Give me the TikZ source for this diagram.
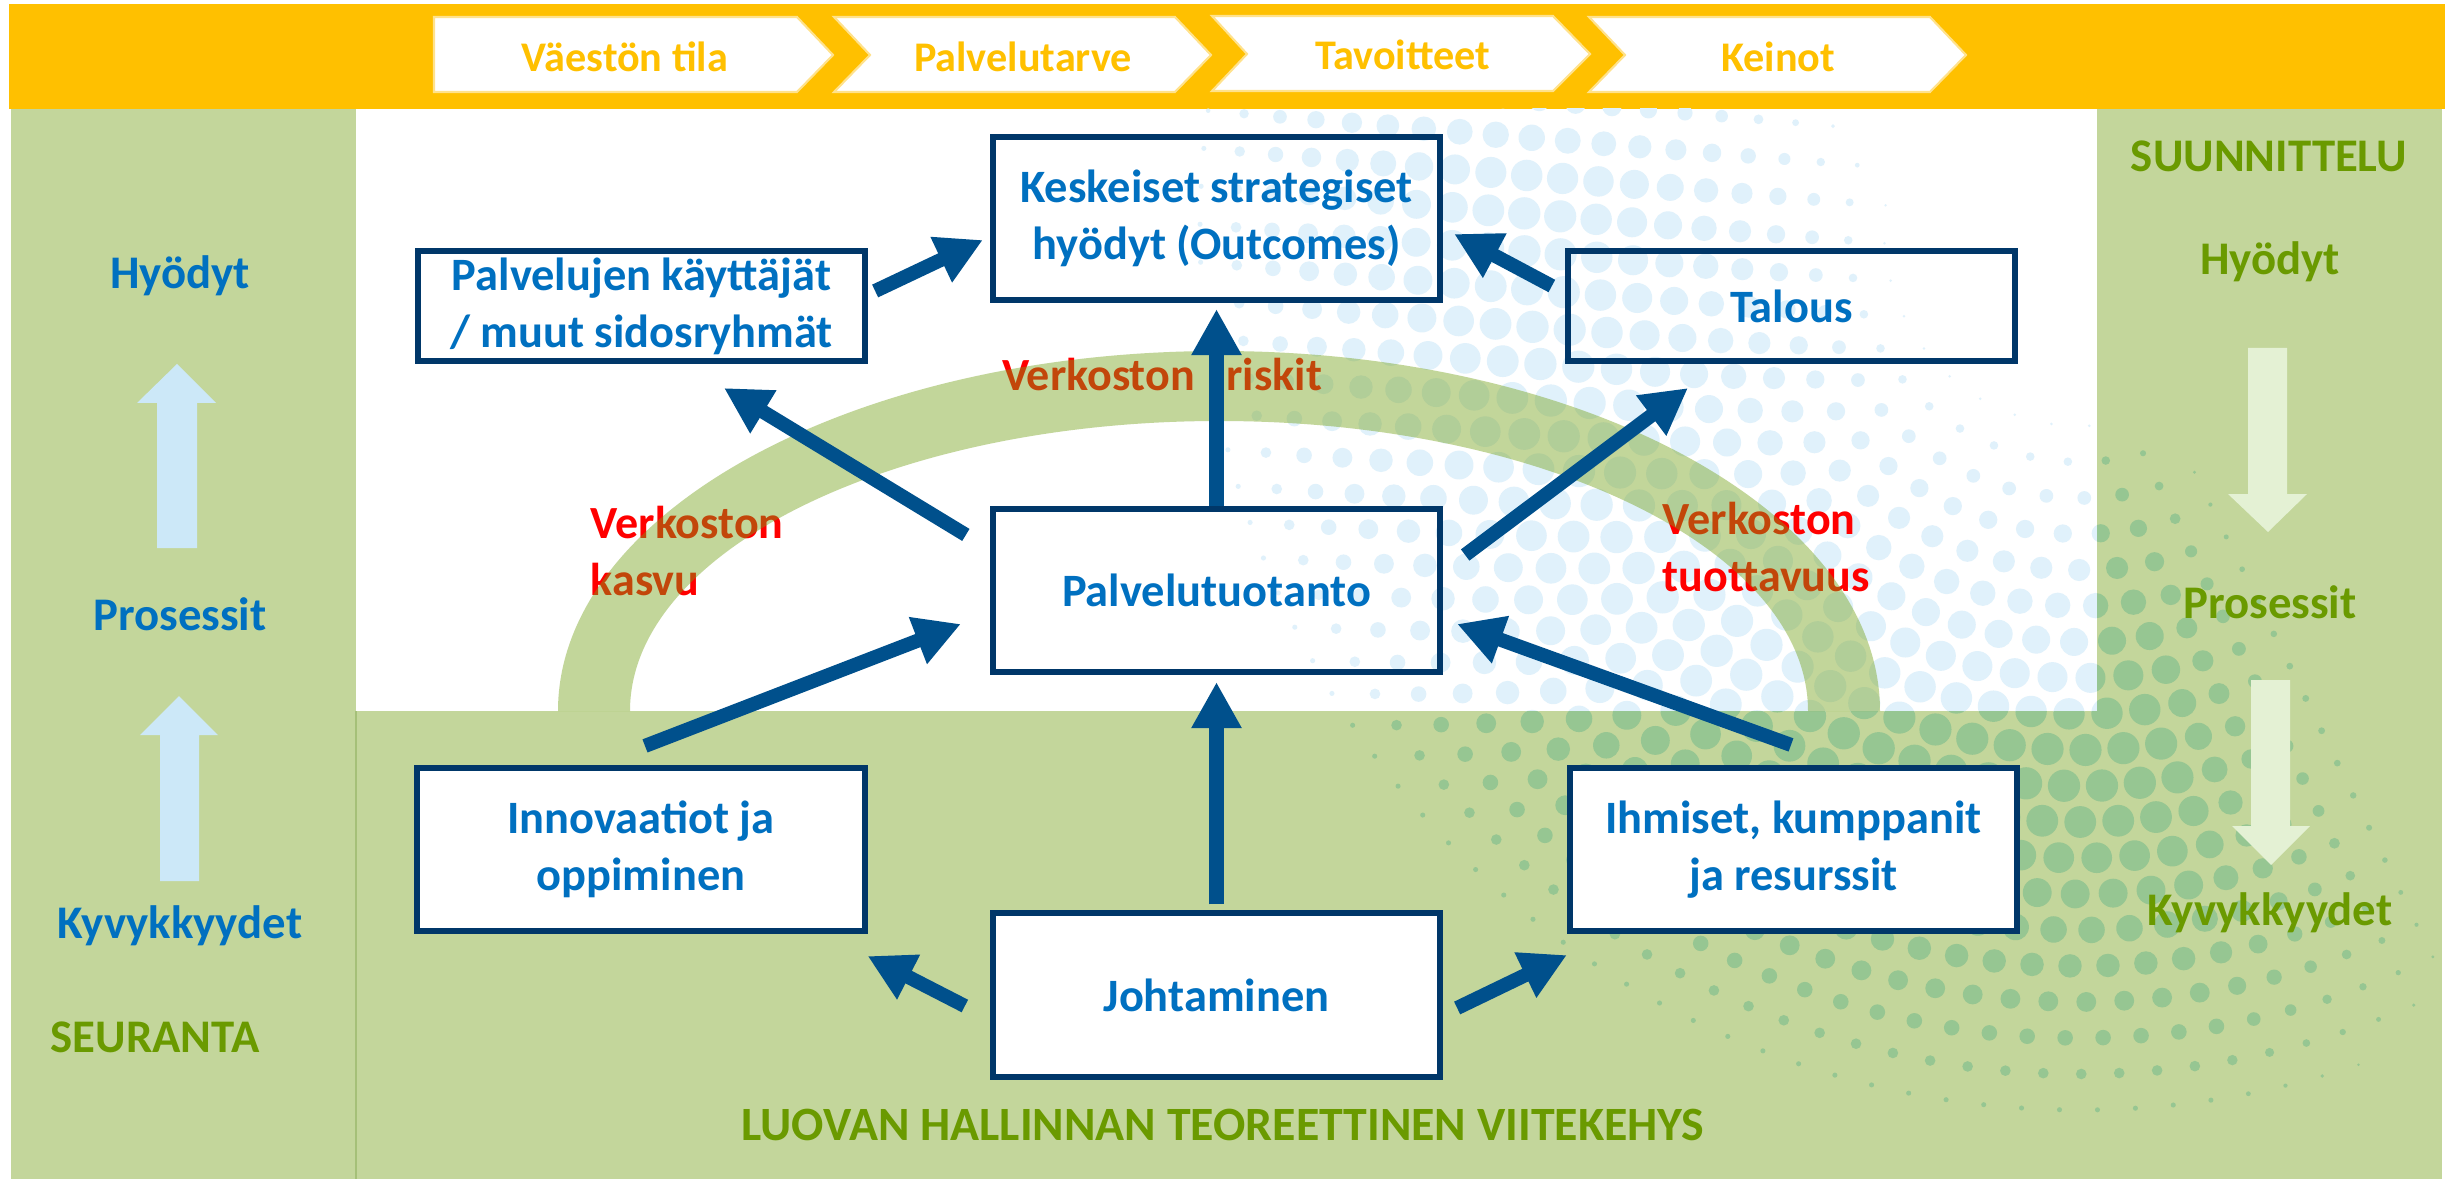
\documentclass[tikz,border=0pt]{standalone}
\usepackage{fontspec}
\setmainfont{Carlito}
\usetikzlibrary{arrows.meta,calc}
\definecolor{ylw}{RGB}{255,192,0}
\definecolor{pgreen}{RGB}{195,214,155}
\definecolor{arcg}{RGB}{117,161,25}
\definecolor{navy}{RGB}{0,55,105}
\definecolor{arrblue}{RGB}{0,80,140}
\definecolor{tblue}{RGB}{0,112,192}
\definecolor{tgreen}{RGB}{106,154,0}
\definecolor{lblue}{RGB}{204,232,248}
\definecolor{lgreen}{RGB}{228,241,212}
\definecolor{dotblue}{RGB}{224,241,251}
\definecolor{dotgreen}{RGB}{150,198,146}
\definecolor{chevline}{RGB}{255,226,140}
\definecolor{edgeg}{RGB}{165,192,120}
\newcommand\halftone[1]{%
  \foreach \n in {0,...,23}{
    \pgfmathsetmacro\rr{160+36*\n}
    \pgfmathsetmacro\dth{38/\rr*57.29578}
    \pgfmathtruncatemacro\cnt{160/\dth}
    \pgfmathsetmacro\sr{max(0,1-((\rr-545)/365)*((\rr-545)/365))}
    \foreach \k in {0,...,\cnt}{
      \pgfmathsetmacro\th{145+(\k+0.5*mod(\n,2))*\dth}
      \pgfmathsetmacro\w{min(1,max(0,(\th-150)/25))*min(1,max(0,(300-\th)/20))}
      \pgfmathsetmacro\rad{0.5*38*0.85*\sr*\w*0.28453}
      \ifdim\rad pt>0.35pt
        \fill[#1] ({2080+\rr*cos(\th)},{230-\rr*sin(\th)}) circle[radius=\rad pt];
      \fi
    }
  }}
\begin{document}
\begin{tikzpicture}[x=0.01cm,y=-0.01cm,
  box/.style={draw=navy, line width=1.7pt, minimum width=127.2pt, minimum height=46.4pt,
    inner sep=0pt, align=center, text=tblue, font=\fontsize{13.2}{16.2}\selectfont\bfseries},
  flatbox/.style={box, minimum height=31.3pt},
  wbox/.style={box, fill=white},
  arr/.style={draw=arrblue, line width=4pt, -{Triangle[width=13.4pt,length=13.1pt]}},
  chev/.style={fill=white, draw=chevline, line width=0.6pt},
  chevtxt/.style={text=ylw, font=\fontsize{12}{14}\selectfont\bfseries, inner sep=0pt},
  sidetxt/.style={font=\fontsize{13.3}{16}\selectfont\bfseries, inner sep=0pt},
  redtxt/.style={text=red, font=\fontsize{13.1}{16.2}\selectfont\bfseries, inner sep=0pt, align=left, anchor=west},
]
\useasboundingbox (0,0) rectangle (2447,1179);
\fill[white] (0,0) rectangle (2447,1179);
% banner
\fill[ylw] (9,4) rectangle (2445,109);
% panels
\fill[pgreen] (11,109) rectangle (356,1179);
\fill[pgreen] (2097,109) rectangle (2442,1179);
\fill[pgreen] (356,711) rectangle (2442,1179);
\draw[edgeg, line width=0.5pt] (356,711) -- (356,1179);
% halftone dots: pale blue on white, darker green on green
\begin{scope}
\clip (356,109) rectangle (2097,711);
\halftone{dotblue}
\end{scope}
\begin{scope}
\clip (356,711) rectangle (2442,1179) (2097,109) rectangle (2442,711);
\halftone{dotgreen}
\end{scope}
% chevrons
\path[chev] (434,17) -- (797,17) -- (833,55) -- (797,92) -- (434,92) -- cycle;
\path[chev] (834,17) -- (1175,17) -- (1211,55) -- (1175,92) -- (834,92) -- (870,55) -- cycle;
\path[chev] (1212,16) -- (1553,16) -- (1590,54) -- (1553,91) -- (1212,91) -- (1247,54) -- cycle;
\path[chev] (1589,17) -- (1930,17) -- (1966,55) -- (1930,92) -- (1589,92) -- (1625,55) -- cycle;
\node[chevtxt] (c1) at (625,57) {Väestön tila};
\node[chevtxt] (c2) at (1023,57) {Palvelutarve};
\node[chevtxt] (c3) at (1403,55) {Tavoitteet};
\node[chevtxt] (c4) at (1778,57) {Keinot};
% red labels (under the arc)
\node[redtxt] (lk) at (590,551) {Verkoston\\kasvu};
\node[redtxt] (lt) at (1662,547) {Verkoston\\tuottavuus};
\node[redtxt, anchor=center] (lr) at (1162,375) {Verkoston\hspace{9pt}riskit};
% arc
\fill[arcg, fill opacity=0.435] (558,711) arc[start angle=180, end angle=360, x radius=661, y radius=360]
  -- (1808,711) arc[start angle=0, end angle=-180, x radius=589, y radius=290] -- cycle;
% side arrows
\fill[lblue] (177,364) -- (216,403) -- (197,403) -- (197,548) -- (157,548) -- (157,403) -- (137,403) -- cycle;
\fill[lblue] (179,696) -- (218,735) -- (199,735) -- (199,881) -- (160,881) -- (160,735) -- (140,735) -- cycle;
\fill[lgreen] (2248,348) -- (2287,348) -- (2287,494) -- (2307,494) -- (2268,532) -- (2228,494) -- (2248,494) -- cycle;
\fill[lgreen] (2251,680) -- (2290,680) -- (2290,826) -- (2310,826) -- (2271,865) -- (2232,826) -- (2251,826) -- cycle;
% side texts
\node[sidetxt, text=tblue] (lh) at (180,276) {Hyödyt};
\node[sidetxt, text=tblue] (lp) at (180,614) {Prosessit};
\node[sidetxt, text=tblue] (lky) at (180,926) {Kyvykkyydet};
\node[sidetxt, text=tgreen] (ls) at (155,1037) {SEURANTA};
\node[sidetxt, text=tgreen] (rs) at (2269,156) {SUUNNITTELU};
\node[sidetxt, text=tgreen] (rh) at (2270,262) {Hyödyt};
\node[sidetxt, text=tgreen] (rp) at (2270,602) {Prosessit};
\node[sidetxt, text=tgreen] (rk) at (2270,913) {Kyvykkyydet};
\node[sidetxt, text=tgreen, font=\fontsize{13.6}{16}\selectfont\bfseries] (title) at (1223,1125) {LUOVAN HALLINNAN TEOREETTINEN VIITEKEHYS};
% boxes
\node[box] (ks) at (1216.5,218.5) {Keskeiset strategiset\\hyödyt (Outcomes)};
\node[flatbox] (pk) at (641.5,306) {Palvelujen käyttäjät\\/ muut sidosryhmät};
\node[flatbox] (ta) at (1791.5,306) {Talous};
\node[box] (pt) at (1216.5,590.5) {Palvelutuotanto};
\node[wbox] (in) at (641,849.5) {Innovaatiot ja\\oppiminen};
\node[wbox] (ih) at (1793.5,849.5) {Ihmiset, kumppanit\\ja resurssit};
\node[wbox] (jo) at (1216.5,995) {Johtaminen};
% connectors
\draw[arr] ($(pk.east)+(7,-15)$) -- ($(ks.west)+(-7,21.5)$);
\draw[arr] ($(ta.west)+(-13,-20)$) -- ($(ks.east)+(11,15.5)$);
\draw[arr] ($(pt.north west)+(-24,29)$) -- ($(pk.south)+(82.5,24)$);
\draw[arr] (pt.north) -- ($(ks.south)+(0,6)$);
\draw[arr] ($(pt.east)+(22,-35.5)$) -- ($(ta.south)+(-103.5,24)$);
\draw[arr] ($(in.north)+(4,-19)$) -- ($(pt.west)+(-29,33.5)$);
\draw[arr] ($(ih.north)+(-2.5,-20)$) -- ($(pt.east)+(14,33.5)$);
\draw[arr] ($(jo.north)+(0,-6)$) -- ($(pt.south)+(0,7)$);
\draw[arr] ($(jo.west)+(-25,11)$) -- ($(in.south east)+(0,22)$);
\draw[arr] ($(jo.east)+(14,13)$) -- ($(ih.south west)+(0,21)$);
\end{tikzpicture}
\end{document}
